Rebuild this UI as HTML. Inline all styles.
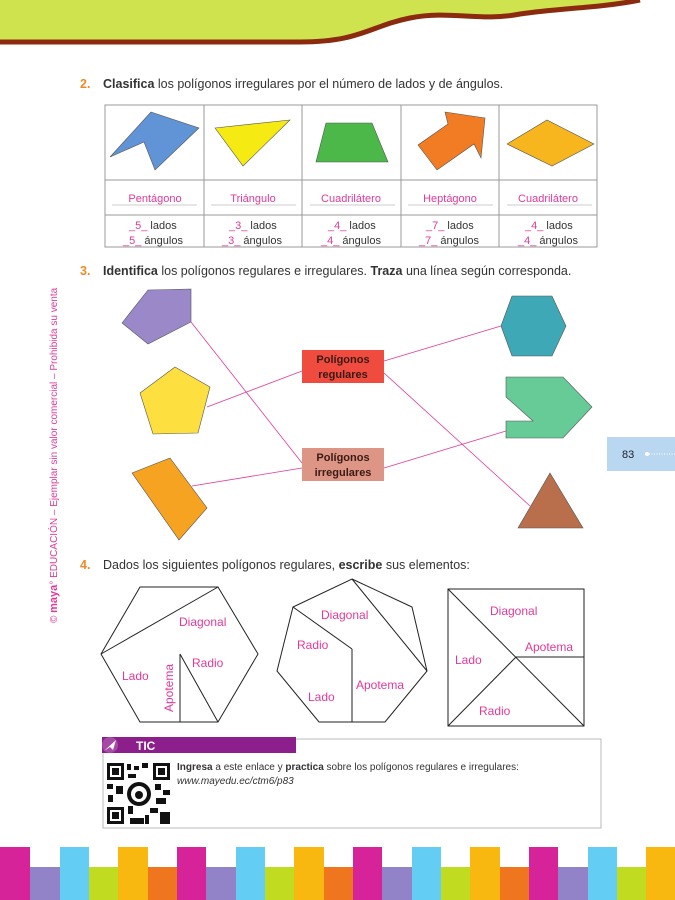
<!DOCTYPE html>
<html><head><meta charset="utf-8"><style>
body{margin:0;width:675px;height:900px;overflow:hidden;background:#fff;font-family:"Liberation Sans",sans-serif}
svg{position:absolute;left:0;top:0}
text{font-family:"Liberation Sans",sans-serif}
</style></head><body>
<svg width="675" height="900" viewBox="0 0 675 900">
<path d="M0 0 H640 C600 8 560 8 520 14 C480 22 450 10 410 18 C370 26 360 42 300 42 H0 Z" fill="#cfe34f"/>
<path d="M0 42 H300 C360 42 370 26 410 18 C450 10 480 22 520 14 C560 8 600 8 640 0" fill="none" stroke="#8b2a0f" stroke-width="5"/>

<text x="80" y="88" font-size="12.5" fill="#333"><tspan fill="#f08a24" font-weight="bold">2.</tspan><tspan x="103" font-weight="bold">Clasifica</tspan> los polígonos irregulares por el número de lados y de ángulos.</text>
<g fill="none" stroke="#999" stroke-width="1">
<rect x="105" y="105" width="492" height="142"/>
<line x1="105" y1="180" x2="597" y2="180"/><line x1="105" y1="215" x2="597" y2="215"/>
<line x1="204" y1="105" x2="204" y2="247"/><line x1="302" y1="105" x2="302" y2="247"/>
<line x1="401" y1="105" x2="401" y2="247"/><line x1="499" y1="105" x2="499" y2="247"/>
</g>
<g stroke="#555" stroke-width="0.6">
<polygon points="151,112 199,128 155,170 144,142 110,157" fill="#6194d6"/>
<polygon points="215,128 290,120 243,166" fill="#f5ea12"/>
<polygon points="326,123 372,123 388,162 316,162" fill="#4db84a"/>
<polygon points="445,112 485,118 481,158 474,144 437,170 418,145 448,124" fill="#f17c24"/>
<polygon points="507,144 547,120 594,144 552,166" fill="#f7b51e"/>
</g>
<g font-size="11" fill="#e0399a" text-anchor="middle">
<text x="155" y="202">Pentágono</text><text x="253" y="202">Triángulo</text><text x="351" y="202">Cuadrilátero</text><text x="450" y="202">Heptágono</text><text x="548" y="202">Cuadrilátero</text>
</g>
<g stroke="#999" stroke-width="0.6">
<line x1="112" y1="205" x2="197" y2="205"/><line x1="211" y1="205" x2="296" y2="205"/><line x1="310" y1="205" x2="395" y2="205"/><line x1="408" y1="205" x2="493" y2="205"/><line x1="507" y1="205" x2="592" y2="205"/>
</g>
<g font-size="11" fill="#333">
<text x="129" y="229"><tspan fill="#e0399a">_5_</tspan> lados</text><text x="123" y="244"><tspan fill="#e0399a">_5_</tspan> ángulos</text>
<text x="229" y="229"><tspan fill="#e0399a">_3_</tspan> lados</text><text x="222" y="244"><tspan fill="#e0399a">_3_</tspan> ángulos</text>
<text x="328" y="229"><tspan fill="#e0399a">_4_</tspan> lados</text><text x="321" y="244"><tspan fill="#e0399a">_4_</tspan> ángulos</text>
<text x="426" y="229"><tspan fill="#e0399a">_7_</tspan> lados</text><text x="419" y="244"><tspan fill="#e0399a">_7_</tspan> ángulos</text>
<text x="525" y="229"><tspan fill="#e0399a">_4_</tspan> lados</text><text x="518" y="244"><tspan fill="#e0399a">_4_</tspan> ángulos</text>
</g>

<text x="80" y="275" font-size="12.5" fill="#333"><tspan fill="#f08a24" font-weight="bold">3.</tspan><tspan x="103" font-weight="bold">Identifica</tspan> los polígonos regulares e irregulares. <tspan font-weight="bold">Traza</tspan> una línea según corresponda.</text>
<g stroke="#555" stroke-width="0.6">
<polygon points="122,323 148,290 191,289 191,322 148,344" fill="#9a88c9"/>
<polygon points="175,367 210,387 198,433 153,434 140,393" fill="#fddf3f"/>
<polygon points="132,473 170,458 207,508 179,540" fill="#f5a320"/>
<polygon points="501,326 512,296 552,296 566,326 552,356 512,356" fill="#3ea8b7"/>
<polygon points="506,377 563,377 592,407 563,438 506,438 506,421 533,421 506,397" fill="#66cb96"/>
<polygon points="550,473 583,528 518,528" fill="#b96f4b"/>
</g>
<g stroke="#e0399a" stroke-width="0.8">
<line x1="191" y1="322" x2="302" y2="463"/><line x1="207" y1="407" x2="302" y2="371"/><line x1="192" y1="486" x2="302" y2="468"/>
<line x1="384" y1="361" x2="501" y2="326"/><line x1="384" y1="373" x2="530" y2="506"/><line x1="384" y1="468" x2="506" y2="431"/>
</g>
<rect x="302" y="350" width="82" height="33" fill="#ef4b3f"/>
<rect x="302" y="448" width="82" height="33" fill="#dd9585"/>
<g font-size="11" font-weight="bold" fill="#3a1a14" text-anchor="middle">
<text x="343" y="363">Polígonos</text><text x="343" y="378">regulares</text>
<text x="343" y="461">Polígonos</text><text x="343" y="476">irregulares</text>
</g>

<rect x="607" y="437" width="68" height="34" fill="#b9d7f0"/>
<text x="622" y="458" font-size="11" fill="#223">83</text>
<circle cx="647" cy="454" r="2" fill="#fff"/><line x1="649" y1="454" x2="675" y2="454" stroke="#fff" stroke-dasharray="1,1.5"/>

<text transform="translate(57,623) rotate(-90)" font-size="10" fill="#e0399a">© <tspan font-weight="bold" font-size="11">maya</tspan>° EDUCACIÓN – Ejemplar sin valor comercial – Prohibida su venta</text>

<text x="80" y="569" font-size="12.5" fill="#333"><tspan fill="#f08a24" font-weight="bold">4.</tspan><tspan x="103">Dados los siguientes polígonos regulares, </tspan><tspan font-weight="bold">escribe</tspan> sus elementos:</text>
<g fill="none" stroke="#222" stroke-width="1">
<polygon points="140,587 218,587 258,654 218,722 140,722 101,654"/>
<line x1="101" y1="654" x2="218" y2="587"/><line x1="180" y1="654" x2="180" y2="722"/><line x1="180" y1="654" x2="218" y2="722"/>
<polygon points="352,579 412,607 427,671 385,722 319,722 277,671 293,607"/>
<line x1="352" y1="579" x2="427" y2="671"/><line x1="293" y1="607" x2="352" y2="649"/><line x1="352" y1="649" x2="352" y2="722"/>
<rect x="448" y="589" width="136" height="137"/>
<line x1="448" y1="589" x2="584" y2="726"/><line x1="516" y1="657" x2="448" y2="726"/><line x1="516" y1="657" x2="584" y2="657"/>
</g>
<g font-size="12" fill="#e0399a">
<text x="179" y="626">Diagonal</text><text x="192" y="667">Radio</text><text x="122" y="680">Lado</text>
<text transform="translate(173,712) rotate(-90)">Apotema</text>
<text x="321" y="619">Diagonal</text><text x="297" y="649">Radio</text><text x="356" y="689">Apotema</text><text x="308" y="701">Lado</text>
<text x="490" y="615">Diagonal</text><text x="525" y="651">Apotema</text><text x="455" y="664">Lado</text><text x="479" y="715">Radio</text>
</g>

<rect x="103" y="739" width="498" height="89" fill="none" stroke="#bbb"/>
<rect x="102" y="737" width="194" height="16" fill="#8c1f8c"/>
<circle cx="110" cy="745" r="8" fill="#a54aa5"/>
<polygon points="104,751 116,740 113,750 110,747" fill="#fff"/>
<text x="136" y="750" font-size="12" font-weight="bold" fill="#fff">TIC</text>
<g fill="#111">
<rect x="106" y="762" width="66" height="63" fill="#fff"/>
<rect x="107" y="763" width="17" height="17"/><rect x="110" y="766" width="11" height="11" fill="#fff"/><rect x="112" y="768" width="7" height="7"/>
<rect x="153" y="763" width="17" height="17"/><rect x="156" y="766" width="11" height="11" fill="#fff"/><rect x="158" y="768" width="7" height="7"/>
<rect x="107" y="807" width="17" height="17"/><rect x="110" y="810" width="11" height="11" fill="#fff"/><rect x="112" y="812" width="7" height="7"/>
<rect x="127" y="764" width="4" height="6"/><rect x="134" y="766" width="5" height="4"/><rect x="142" y="763" width="6" height="5"/><rect x="128" y="774" width="8" height="4"/>
<rect x="107" y="784" width="6" height="5"/><rect x="116" y="786" width="7" height="8"/><rect x="108" y="795" width="5" height="7"/><rect x="155" y="784" width="6" height="6"/>
<rect x="163" y="790" width="7" height="5"/><rect x="156" y="798" width="10" height="6"/><rect x="128" y="806" width="5" height="8"/><rect x="150" y="808" width="8" height="5"/>
<rect x="160" y="812" width="10" height="12"/><rect x="130" y="818" width="14" height="6"/><rect x="145" y="815" width="4" height="9"/>
<circle cx="139" cy="794" r="12"/><circle cx="139" cy="794" r="8" fill="#fff"/><circle cx="139" cy="795" r="4"/>
</g>
<text x="177" y="770" font-size="10" fill="#333"><tspan font-weight="bold">Ingresa</tspan> a este enlace y <tspan font-weight="bold">practica</tspan> sobre los polígonos regulares e irregulares:</text>
<text x="177" y="784" font-size="10" font-style="italic" fill="#333">www.mayedu.ec/ctm6/p83</text>

<g>
<rect x="0" y="847" width="30" height="53" fill="#d6239a"/>
<rect x="30" y="867" width="30" height="33" fill="#9282c8"/>
<rect x="60" y="847" width="29" height="53" fill="#63cdf3"/>
<rect x="89" y="867" width="29" height="33" fill="#c1dc20"/>
<rect x="118" y="847" width="30" height="53" fill="#f9b80f"/>
<rect x="148" y="867" width="29" height="33" fill="#f0751f"/>
<rect x="177" y="847" width="29" height="53" fill="#d6239a"/>
<rect x="206" y="867" width="30" height="33" fill="#9282c8"/>
<rect x="236" y="847" width="29" height="53" fill="#63cdf3"/>
<rect x="265" y="867" width="29" height="33" fill="#c1dc20"/>
<rect x="294" y="847" width="30" height="53" fill="#f9b80f"/>
<rect x="324" y="867" width="29" height="33" fill="#f0751f"/>
<rect x="353" y="847" width="29" height="53" fill="#d6239a"/>
<rect x="382" y="867" width="30" height="33" fill="#9282c8"/>
<rect x="412" y="847" width="29" height="53" fill="#63cdf3"/>
<rect x="441" y="867" width="29" height="33" fill="#c1dc20"/>
<rect x="470" y="847" width="30" height="53" fill="#f9b80f"/>
<rect x="500" y="867" width="29" height="33" fill="#f0751f"/>
<rect x="529" y="847" width="29" height="53" fill="#d6239a"/>
<rect x="558" y="867" width="30" height="33" fill="#9282c8"/>
<rect x="588" y="847" width="29" height="53" fill="#63cdf3"/>
<rect x="617" y="867" width="29" height="33" fill="#c1dc20"/>
<rect x="646" y="847" width="29" height="53" fill="#f9b80f"/>
</g>
</svg>
</body></html>
